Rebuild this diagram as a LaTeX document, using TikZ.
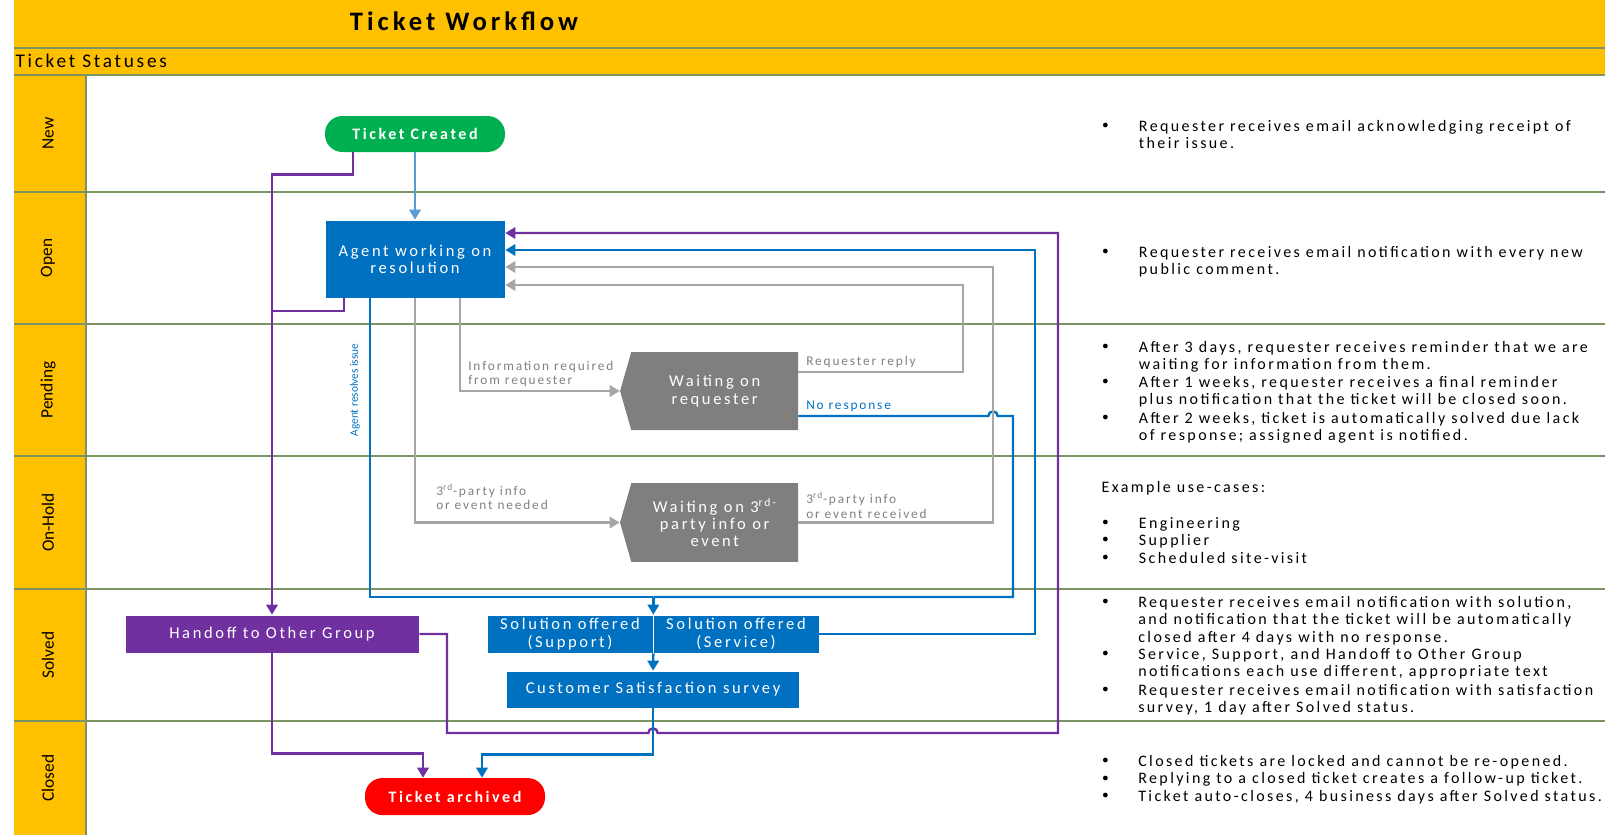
\documentclass[tikz,border=0pt]{standalone}
\usepackage{fontspec}
\setmainfont{Carlito}
\newfontfamily\spaced[LetterSpace=16]{Carlito}
\newfontfamily\notefont[LetterSpace=15]{Carlito}
\newfontfamily\titlefont[LetterSpace=15]{Carlito}
\newfontfamily\labelfont[LetterSpace=14]{Carlito}
\usetikzlibrary{shapes.symbols,arrows.meta}
\definecolor{gold}{RGB}{255,192,0}
\definecolor{laneline}{RGB}{122,148,98}
\definecolor{msblue}{RGB}{0,112,192}
\definecolor{lightblue}{RGB}{91,155,213}
\definecolor{msgreen}{RGB}{0,176,80}
\definecolor{mspurple}{RGB}{112,48,160}
\definecolor{boxgray}{RGB}{127,127,127}
\definecolor{linegray}{RGB}{166,166,166}
\definecolor{labelgray}{RGB}{128,128,128}

\begin{document}
\begin{tikzpicture}[x=1pt, y=-1pt, every node/.style={inner sep=0pt}]
	\tikzset{
		flowbox/.style={rectangle, draw=white, line width=0.5pt, text=white, align=center,
			font=\spaced\fontsize{12.4}{13}\selectfont},
		terminal/.style={flowbox, draw=none, rounded corners=13pt,
			font=\spaced\bfseries\fontsize{12}{13}\selectfont},
		waitbox/.style={flowbox, draw=none, fill=boxgray, signal, signal to=west,
			signal pointer angle=148},
		lanename/.style={rotate=90, font=\fontsize{13}{15}\selectfont},
		flowlabel/.style={anchor=west, align=left, text=labelgray,
			font=\labelfont\fontsize{10}{10.7}\selectfont},
		note/.style={anchor=north west, align=left,
			font=\notefont\fontsize{12}{12.9}\selectfont},
		notedot/.style={circle, fill=black, minimum size=3.6pt},
		lanerule/.style={draw=laneline, line width=1.2pt},
		link/.style={line width=1.8pt},
		flow/.style={link, -{Triangle[length=7.5pt,width=8.5pt]}}
	}
	\useasboundingbox (0,0) rectangle (1203.75,626.25);
	\fill[gold] (10.5,0) rectangle (1203.75,56.25);
	\fill[gold] (10.5,56.25) rectangle (64.5,626.25);
	\foreach \y in {36,56.25,144,243,342,441.75,540.75}
	\draw[lanerule] (10.5,\y) -- (1203.75,\y);
	\draw[lanerule] (64.5,56.25) -- (64.5,626.25);

	\node[font=\titlefont\bfseries\fontsize{20}{22}\selectfont] (title) at (348,16) {Ticket Workflow};
	\node[anchor=west, font=\labelfont\fontsize{14.5}{16}\selectfont] (statuses) at (11.5,46) {Ticket Statuses};

	\node[lanename] (lnew)     at (36,100.1)  {New};
	\node[lanename] (lopen)    at (36,193.5)  {Open};
	\node[lanename] (lpending) at (36,292.5)  {Pending};
	\node[lanename] (lonhold)  at (36,391.9)  {On-Hold};
	\node[lanename] (lsolved)  at (36,491.25) {Solved};
	\node[lanename] (lclosed)  at (36,583.5)  {Closed};

	\node[terminal, fill=msgreen, minimum width=135pt, minimum height=27pt] (created) at (311.25,100.5) {Ticket Created};
	\node[flowbox, fill=msblue, minimum width=135pt, minimum height=58.5pt] (agent) at (311.25,194.25) {Agent working on\\resolution};
	\node[waitbox, minimum width=133.5pt, minimum height=58.5pt] (waitreq) at (536,293.25) {Waiting on\\requester};
	\node[waitbox, minimum width=133.5pt, minimum height=59pt] (waitthird) at (536,391.9) {Waiting on 3\textsuperscript{rd-}\\party info or\\event};
	\node[flowbox, fill=mspurple, minimum width=220.5pt, minimum height=28.5pt] (handoff) at (204,475.5) {Handoff to Other Group};
	\node[flowbox, fill=msblue, minimum width=124.5pt, minimum height=28.5pt] (support) at (427.5,475.5) {Solution offered\\(Support)};
	\node[flowbox, fill=msblue, minimum width=124.5pt, minimum height=28.5pt] (service) at (552,475.5) {Solution offered\\(Service)};
	\node[flowbox, fill=msblue, minimum width=219.75pt, minimum height=27.75pt] (survey) at (489.75,517.1) {Customer Satisfaction survey};
	\node[terminal, fill=red, minimum width=135pt, minimum height=27.75pt] (archived) at (341.25,597.4) {Ticket archived};

	\coordinate (hjoin) at (handoff.north |- 0,233.25);
	\coordinate (jn) at (support.north east |- 0,447.75);

	\draw[flow, lightblue] (created) -- (agent);
	\draw[flow, mspurple] ([xshift=-46.5pt]created.south) -- ++(0,16.5) -| (handoff.north);
	\draw[link, mspurple] ([xshift=-53.25pt]agent.south) |- (hjoin);
	\draw[flow, mspurple] (handoff.south) -- ++(0,75) -| ([xshift=-24pt]archived.north);
	\draw[flow, mspurple] (handoff.east) -| (335.25,549.75) -- (486.25,549.75)
		arc[start angle=180, end angle=0, radius=3.5pt] -- (793.5,549.75) |- ([yshift=19.5pt]agent.east);
	\draw[link, msblue] ([xshift=-33.75pt]agent.south) |- (jn);
	\draw[flow, msblue] (jn) -- (support.north east);
	\draw[link, msblue] ([yshift=-18.75pt]waitreq.east) -- (741.25,312)
		arc[start angle=180, end angle=0, radius=3.5pt] -- (759.75,312) |- (jn);
	\draw[flow, msblue] (service.east) -| (776.25,187.5) -- ([yshift=6.75pt]agent.east);
	\draw[flow, linegray] ([xshift=33.75pt]agent.south) |- (waitreq.west);
	\draw[flow, linegray] (agent.south) |- (waitthird.west);
	\draw[flow, linegray] ([yshift=14.25pt]waitreq.east) -| (722.25,213.75) -- ([yshift=-19.5pt]agent.east);
	\draw[flow, linegray] (waitthird.east) -| (744.75,200.25) -- ([yshift=-6pt]agent.east);
	\draw[flow, msblue] (support.south east) -- (survey.north);
	\draw[flow, msblue] (survey.south) -- ++(0,34.5) -| ([xshift=20.25pt]archived.north);

	\node[flowlabel] (inforeq) at (351,280.5) {Information required\\from requester};
	\node[flowlabel] (thirdneed) at (327,372.4) {3\textsuperscript{rd}-party info\\or event needed};
	\node[flowlabel] (reqreply) at (604.5,271.5) {Requester reply};
	\node[flowlabel, text=msblue] (noresp) at (604.5,304.5) {No response};
	\node[flowlabel] (thirdrecv) at (604.5,379) {3\textsuperscript{rd}-party info\\or event received};
	\node[rotate=90, text=msblue, font=\fontsize{8.5}{10}\selectfont] (resolves) at (266.25,292.5) {Agent resolves issue};

	\foreach \y [count=\i] in {93.75,188.25,259.5,285.75,312.75,391.5,404.25,417.75,450.75,489.75,516.75,570,583.5,596.25}
	\node[notedot] (dot\i) at (829,\y) {};
	\node[note] (newnote) at (854,90.25) {Requester receives email acknowledging receipt of\\their issue.};
	\node[note] (opennote) at (854,184.75) {Requester receives email notification with every new\\public comment.};
	\node[note] (pendnote1) at (854,256) {After 3 days, requester receives reminder that we are\\waiting for information from them.};
	\node[note] (pendnote2) at (854,282.25) {After 1 weeks, requester receives a final reminder\\plus notification that the ticket will be closed soon.};
	\node[note] (pendnote3) at (854,309.25) {After 2 weeks, ticket is automatically solved due lack\\of response; assigned agent is notified.};
	\node[note] (holdhead) at (826,361) {Example use-cases:};
	\node[note] (holdnote) at (854,388) {Engineering\\Supplier\\Scheduled site-visit};
	\node[note] (solvnote1) at (853.5,447.25) {Requester receives email notification with solution,\\and notification that the ticket will be automatically\\closed after 4 days with no response.};
	\node[note] (solvnote2) at (853.5,486.25) {Service, Support, and Handoff to Other Group\\notifications each use different, appropriate text};
	\node[note] (solvnote3) at (853.5,513.25) {Requester receives email notification with satisfaction\\survey, 1 day after Solved status.};
	\node[note] (closnote) at (853.5,566.5) {Closed tickets are locked and cannot be re-opened.\\Replying to a closed ticket creates a follow-up ticket.\\Ticket auto-closes, 4 business days after Solved status.};
\end{tikzpicture}
\end{document}
